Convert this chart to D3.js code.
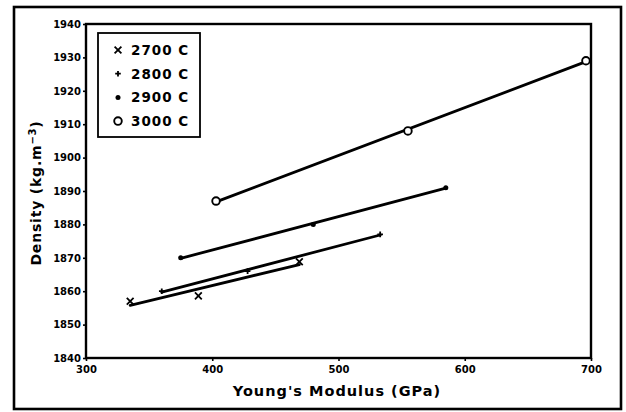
<!DOCTYPE html>
<html>
<head>
<meta charset="utf-8">
<script src="https://cdn.jsdelivr.net/npm/d3@7"></script>
<style>
  body { margin: 0; background: #fff; }
  svg text { font-family: "DejaVu Sans", sans-serif; font-weight: bold; fill: #000; }
</style>
</head>
<body>
<div class="vis"></div>
<script>
(function() {
    // temperatures and measured points (Young's modulus GPa, density kg/m3)
    const series = ['2700 C', '2800 C', '2900 C', '3000 C'];
    const modulus2700 = [335, 389, 469];
    const density2700 = [1857, 1858.6, 1868.8];
    const modulus2800 = [360, 428, 533];
    const density2800 = [1860, 1866, 1877];
    const modulus2900 = [375, 480, 585];
    const density2900 = [1870, 1880, 1891];
    const modulus3000 = [403, 555, 696];
    const density3000 = [1887, 1908, 1929];
    const xTicks = [300, 400, 500, 600, 700];
    const yTicks = [1840, 1850, 1860, 1870, 1880, 1890, 1900, 1910, 1920, 1930, 1940];

    const data = [
        { name: series[0], marker: 'x', xs: modulus2700, ys: density2700 },
        { name: series[1], marker: 'plus', xs: modulus2800, ys: density2800 },
        { name: series[2], marker: 'dot', xs: modulus2900, ys: density2900 },
        { name: series[3], marker: 'circle', xs: modulus3000, ys: density3000 },
    ];

    const dimensions = {
        width: 626,
        height: 412,
        plot: { left: 86, right: 591, top: 24, bottom: 358 },
    };

    const svg = d3.select('.vis').append('svg')
        .attr('width', dimensions.width)
        .attr('height', dimensions.height);

    // outer frame
    svg.append('rect')
        .attr('x', 14).attr('y', 7)
        .attr('width', 607).attr('height', 402)
        .attr('fill', 'none').attr('stroke', '#000').attr('stroke-width', 2.6);

    const p = dimensions.plot;
    const x = d3.scaleLinear().domain([300, 700]).range([p.left, p.right]);
    const y = d3.scaleLinear().domain([1840, 1940]).range([p.bottom, p.top]);

    const yAxis = svg.append('g')
        .attr('transform', `translate(${p.left},0)`)
        .call(d3.axisLeft(y).tickValues(yTicks).tickSize(3).tickPadding(2).tickFormat(d3.format('d')));
    const xAxis = svg.append('g')
        .attr('transform', `translate(0,${p.bottom})`)
        .call(d3.axisBottom(x).tickValues(xTicks).tickSize(3).tickPadding(5).tickFormat(d3.format('d')));

    [xAxis, yAxis].forEach(a => {
        a.select('.domain').remove();
        a.selectAll('line').attr('stroke', '#000').attr('stroke-width', 1.6);
        a.selectAll('text').style('font-size', '10px').style('font-family', '"DejaVu Sans", sans-serif')
            .style('font-weight', 'bold');
    });

    // plot frame
    svg.append('rect')
        .attr('x', p.left).attr('y', p.top)
        .attr('width', p.right - p.left).attr('height', p.bottom - p.top)
        .attr('fill', 'none').attr('stroke', '#000').attr('stroke-width', 2.4);

    // least squares line through each temperature's points
    function fit(xs, ys) {
        const mx = d3.mean(xs), my = d3.mean(ys);
        let sxy = 0, sxx = 0;
        xs.forEach((v, i) => {
            sxy += (v - mx) * (ys[i] - my);
            sxx += (v - mx) * (v - mx);
        });
        const b = sxy / sxx;
        const x0 = d3.min(xs), x1 = d3.max(xs);
        return [[x0, my + b * (x0 - mx)], [x1, my + b * (x1 - mx)]];
    }

    const line = d3.line().x(d => x(d[0])).y(d => y(d[1]));

    data.forEach(s => {
        svg.append('path')
            .attr('d', line(fit(s.xs, s.ys)))
            .attr('fill', 'none')
            .attr('stroke', '#000')
            .attr('stroke-width', 2.8)
            .attr('stroke-linecap', 'round');
    });

    function drawMarker(g, type, cx, cy) {
        if (type === 'x') {
            const r = 3.4;
            g.append('path')
                .attr('d', `M${cx - r},${cy - r}L${cx + r},${cy + r}M${cx - r},${cy + r}L${cx + r},${cy - r}`)
                .attr('stroke', '#000').attr('stroke-width', 1.8);
        } else if (type === 'plus') {
            const r = 2.8;
            g.append('path')
                .attr('d', `M${cx - r},${cy}L${cx + r},${cy}M${cx},${cy - r}L${cx},${cy + r}`)
                .attr('stroke', '#000').attr('stroke-width', 1.8);
        } else if (type === 'dot') {
            g.append('circle')
                .attr('cx', cx).attr('cy', cy).attr('r', 2.5)
                .attr('fill', '#000');
        } else {
            g.append('circle')
                .attr('cx', cx).attr('cy', cy).attr('r', 3.8)
                .attr('fill', '#fff').attr('stroke', '#000').attr('stroke-width', 1.9);
        }
    }

    const marks = svg.append('g');
    data.forEach(s => {
        s.xs.forEach((v, i) => drawMarker(marks, s.marker, x(v), y(s.ys[i])));
    });

    // legend
    const legend = svg.append('g');
    legend.append('rect')
        .attr('x', 98).attr('y', 33)
        .attr('width', 102).attr('height', 104)
        .attr('fill', '#fff').attr('stroke', '#000').attr('stroke-width', 1.8);

    data.forEach((s, i) => {
        const cy = 50 + i * 23.7;
        drawMarker(legend, s.marker, 118, cy);
        legend.append('text')
            .attr('x', 131).attr('y', cy)
            .attr('dy', '0.36em')
            .style('font-size', '13.5px')
            .style('letter-spacing', '1px')
            .text(s.name);
    });

    // axis titles
    svg.append('text')
        .attr('x', 337).attr('y', 396)
        .attr('text-anchor', 'middle')
        .style('font-size', '14.5px')
        .style('letter-spacing', '1px')
        .text("Young's Modulus (GPa)");

    const yTitle = svg.append('text')
        .attr('transform', 'translate(41,193) rotate(-90)')
        .attr('text-anchor', 'middle')
        .style('font-size', '14px')
        .style('letter-spacing', '0.8px');
    yTitle.append('tspan').text('Density (kg.m');
    yTitle.append('tspan').attr('dy', -5).style('font-size', '10px').text('\u22123');
    yTitle.append('tspan').attr('dy', 5).text(')');
})()
</script>
</body>
</html>
